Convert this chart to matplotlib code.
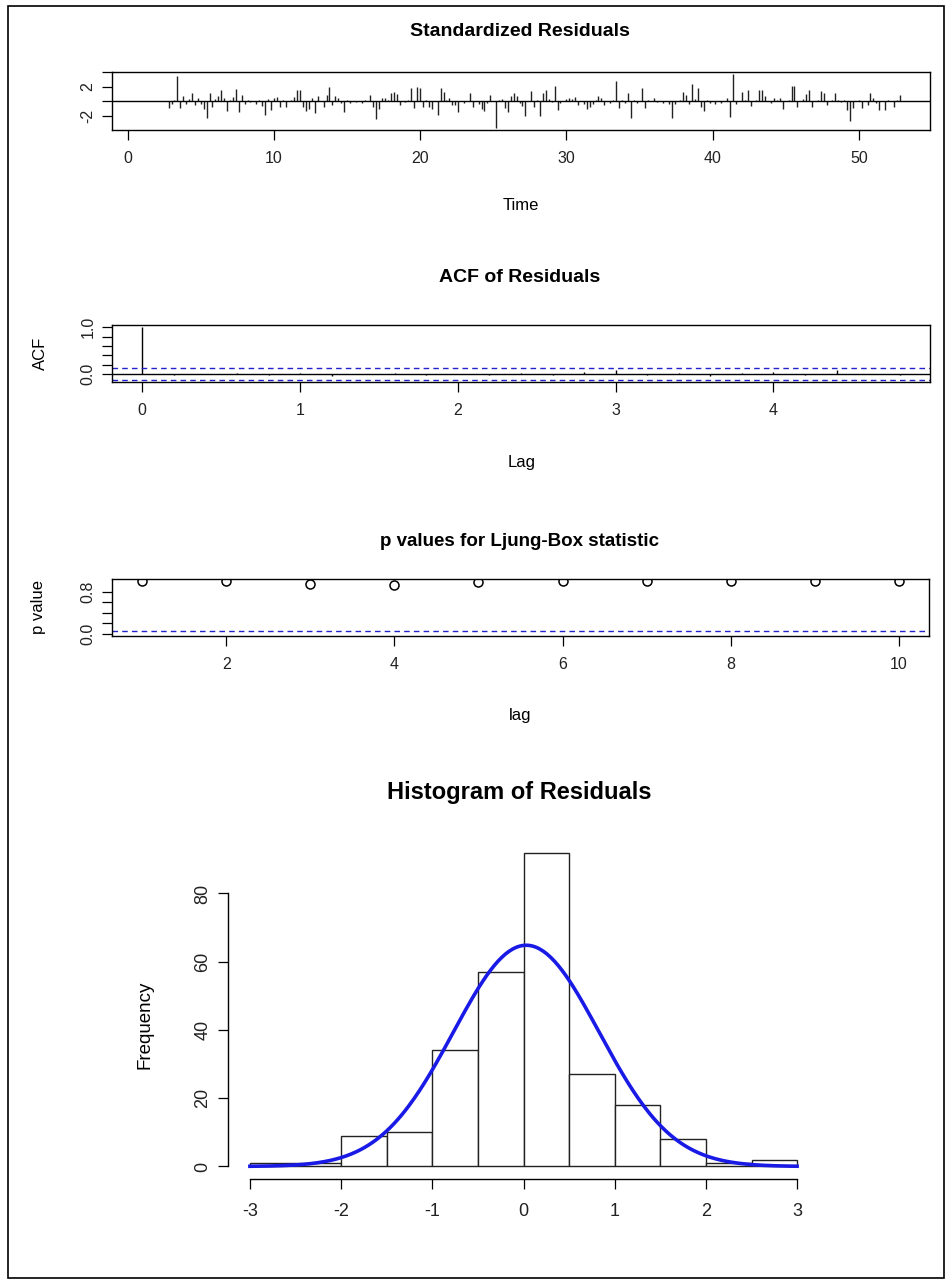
import matplotlib
matplotlib.use("Agg")
import matplotlib.pyplot as plt
from matplotlib.patches import Rectangle
import numpy as np

plt.rcParams['font.family'] = ['Liberation Sans', 'DejaVu Sans']
plt.rcParams['axes.unicode_minus'] = False

# standardized residuals, ts starting at 1.0 with frequency 5
t_start = 1.0
freq = 5
std_resid = [
    0.0, 0.0, 0.0, 0.0, 0.0, 0.0, 0.0, 0.0, 0.0,
    -0.9, -0.3, 0.2, 3.4, -0.9, 0.8, -0.3, 0.3, 1.2, -0.5,
    0.4, -0.3, -1.0, -2.2, 1.2, -0.7, 0.3, 0.7, 1.5, 0.5,
    -1.3, 0.2, 0.6, 1.7, -1.4, 0.9, -0.3, 0.2, -0.1, 0.1,
    -0.3, 0.2, -0.6, -1.9, 0.3, -1.2, 0.5, 0.6, -0.7, 0.2,
    -0.7, 0.1, 0.2, 0.6, 1.6, 1.6, -0.8, -1.3,
    -1.1, 0.5, -1.6, 0.7, 0.1, -0.7, 0.9, 2.0, -0.5, 0.7,
    0.4, -0.2, -1.5, 0.2, -0.2, 0.1, -0.1, 0.1, -0.2, 0.2,
    0.1, 0.9, -0.7, -2.4, -1.0, 0.4, 0.5, 0.2, 1.1, 1.3,
    1.0, -0.5, 0.1, -0.1, 0.2, 1.8, -0.9, 2.0, 1.8, -0.7,
    0.2, -0.7, -1.1, 0.1, -1.8, 1.8, 1.3, 0.2, 0.4, -0.5,
    -0.5, -1.4, 0.1, -0.2, 0.1, 1.1, -0.7, 0.1, -0.3, -1.1,
    -1.3, -0.2, 0.9, 0.1, -3.6, 0.2, 0.3, -0.9, -1.5, 0.7,
    1.1, 0.7, -0.2, -0.6, -2.0, 0.1, 1.4, -0.7, 0.2, -2.0,
    1.1, 1.6, 0.3, -0.1, 2.1, -1.2, -0.2, 0.1, 0.3, 0.4,
    0.3, 0.6, -0.5, 0.1, -0.3, -1.0, -0.8, -0.3, 0.2, 0.8,
    0.5, -0.5, 0.1, -0.2, 0.2, 2.8, -0.9, 0.2, -0.2, 1.2,
    -2.3, 0.2, -0.2, 0.1, 1.8, -0.9, 0.2, 0.1, 0.4, -0.1,
    0.1, -0.2, 0.1, -0.3, -2.3, -0.3, 0.1, 0.2, 1.3, 0.9,
    -0.3, 2.3, 0.3, 1.8, -0.7, -1.3, 0.2, -0.2, 0.1, -0.3,
    0.1, -0.2, 0.1, 0.4, -2.1, 3.7, -0.3, 0.1, 1.3, 0.2,
    1.6, -0.6, 0.1, 0.2, 1.5, 1.6, 0.7, 0.1, -0.2, 0.4,
    0.2, 0.4, -1.1, 0.1, 0.2, 2.1, 2.1, -0.7, 0.1, 0.3,
    1.0, 1.6, -0.7, 0.1, 0.2, 1.4, 1.1, -0.5, 0.1, 0.2,
    1.1, 0.2, -0.1, 0.2, -1.2, -2.7, -0.9, 0.1, 0.2, -0.9,
    0.1, -0.5, 1.1, 0.4, -0.2, -1.2, 0.1, -1.2, 0.2, 0.1,
    -0.7, 0.2, 0.9,
]

# ACF of residuals, lags 0..24 (in seasonal units)
acf_vals = [1.0, -0.02, 0.01, 0.03, -0.01, 0.02, -0.03, 0.01, 0.02, -0.02,
            0.01, -0.01, 0.03, -0.02, 0.04, 0.08, -0.01, 0.02, -0.03, 0.03,
            0.05, -0.02, 0.09, 0.01, -0.02]
n_obs = 260

# Ljung-Box p values
lb_lags = [1, 2, 3, 4, 5, 6, 7, 8, 9, 10]
lb_pvals = [1.0, 1.0, 0.94, 0.93, 0.98, 1.0, 1.0, 1.0, 1.0, 1.0]

# histogram of residuals
bin_edges = [-3.0, -2.5, -2.0, -1.5, -1.0, -0.5, 0.0, 0.5, 1.0, 1.5, 2.0, 2.5, 3.0]
bin_counts = [1, 1, 9, 10, 34, 57, 92, 27, 18, 8, 1, 2]
resid_mean = 0.03
resid_sd = 0.80

W, H = 952, 1282
fig = plt.figure(figsize=(W / 100, H / 100), dpi=100)


def px_axes(x0, y0, x1, y1):
    return fig.add_axes([x0 / W, 1 - y1 / H, (x1 - x0) / W, (y1 - y0) / H])


def rlim(lo, hi):
    d = (hi - lo) * 0.04
    return lo - d, hi + d


def ftext(x, y, s, **kw):
    fig.text(x / W, 1 - y / H, s, ha='center', va='center', **kw)


def style(ax, size=11.5):
    for sp in ax.spines.values():
        sp.set_linewidth(1.0)
    ax.tick_params(direction='out', length=7, width=0.9, labelsize=size, pad=5,
                   labelcolor='#222222')


# panel 1: standardized residuals
ax1 = px_axes(112, 72, 930, 130)
t = t_start + np.arange(len(std_resid)) / freq
ax1.vlines(t, 0, std_resid, color='#222222', lw=1.0)
ax1.axhline(0, color='black', lw=1)
ax1.set_xlim(*rlim(t.min(), t.max()))
ax1.set_ylim(*rlim(min(std_resid), max(std_resid)))
ax1.set_xticks([0, 10, 20, 30, 40, 50])
ax1.set_yticks([-2, 0, 2, 4])
ax1.set_yticklabels(['-2', '', '2', ''], rotation=90, va='center')
style(ax1)
ax1.tick_params(axis='x', pad=8)
ftext(520, 31, 'Standardized Residuals', fontsize=14, fontweight='bold')
ftext(521, 205, 'Time', fontsize=12)

# panel 2: ACF
ax2 = px_axes(112, 325, 930, 382)
lags = np.arange(len(acf_vals)) / freq
clim = 1.96 / np.sqrt(n_obs)
ax2.vlines(lags, 0, acf_vals, color='black', lw=1)
ax2.axhline(0, color='black', lw=1)
ax2.axhline(clim, color='#2222cc', lw=1, ls=(0, (4, 3)))
ax2.axhline(-clim, color='#2222cc', lw=1, ls=(0, (4, 3)))
ax2.set_xlim(*rlim(0, lags.max()))
ax2.set_ylim(*rlim(-clim, 1.0))
ax2.set_xticks([0, 1, 2, 3, 4])
ax2.set_yticks([0, 0.2, 0.4, 0.6, 0.8, 1.0])
ax2.set_yticklabels(['0.0', '', '', '', '', '1.0'], rotation=90, va='center')
style(ax2)
ax2.tick_params(axis='x', pad=8)
ftext(520, 277, 'ACF of Residuals', fontsize=14, fontweight='bold')
ftext(522, 462, 'Lag', fontsize=12)
ftext(40, 353, 'ACF', fontsize=12, rotation=90)

# panel 3: Ljung-Box p values
ax3 = px_axes(112, 579, 929, 636)
ax3.plot(lb_lags, lb_pvals, 'o', mfc='none', mec='black', ms=6.5, mew=1.1)
ax3.axhline(0.05, color='#2222cc', lw=1, ls=(0, (4, 3)))
ax3.set_xlim(*rlim(1, 10))
ax3.set_ylim(*rlim(0, 1))
ax3.set_xticks([2, 4, 6, 8, 10])
ax3.set_yticks([0, 0.2, 0.4, 0.6, 0.8])
ax3.set_yticklabels(['0.0', '', '', '', '0.8'], rotation=90, va='center')
style(ax3)
ax3.tick_params(axis='x', pad=8)
ftext(520, 541, 'p values for Ljung-Box statistic', fontsize=13.5, fontweight='bold')
ftext(520, 715, 'lag', fontsize=12)
ftext(38, 607, 'p value', fontsize=12, rotation=90)

# panel 4: histogram with normal curve
ax4 = px_axes(228, 840, 819, 1179)
ax4.hist(np.array(bin_edges[:-1]) + 0.25, bins=bin_edges, weights=bin_counts,
         facecolor='white', edgecolor='#222222', lw=1)
xs = np.linspace(-3, 3, 301)
bw = bin_edges[1] - bin_edges[0]
dens = np.exp(-0.5 * ((xs - resid_mean) / resid_sd) ** 2) / (resid_sd * np.sqrt(2 * np.pi))
ax4.plot(xs, dens * sum(bin_counts) * bw, color='#1a1ae6', lw=2.6)
ax4.set_xlim(*rlim(-3, 3))
ax4.set_ylim(*rlim(0, max(bin_counts)))
ax4.spines['top'].set_visible(False)
ax4.spines['right'].set_visible(False)
ax4.spines['left'].set_bounds(0, 80)
ax4.spines['bottom'].set_bounds(-3, 3)
ax4.set_xticks([-3, -2, -1, 0, 1, 2, 3])
ax4.set_yticks([0, 20, 40, 60, 80])
ax4.set_yticklabels(['0', '20', '40', '60', '80'], rotation=90, va='center')
style(ax4, size=13)
ax4.tick_params(axis='x', pad=10)
ftext(519, 793, 'Histogram of Residuals', fontsize=17, fontweight='bold')
ftext(145, 1025, 'Frequency', fontsize=13.5, rotation=90)

# outer frame
fig.patches.append(Rectangle((8 / W, 4 / H), 936 / W, 1272 / H, transform=fig.transFigure,
                             fill=False, edgecolor='black', lw=1.2))

fig.savefig('out.png', dpi=100)
